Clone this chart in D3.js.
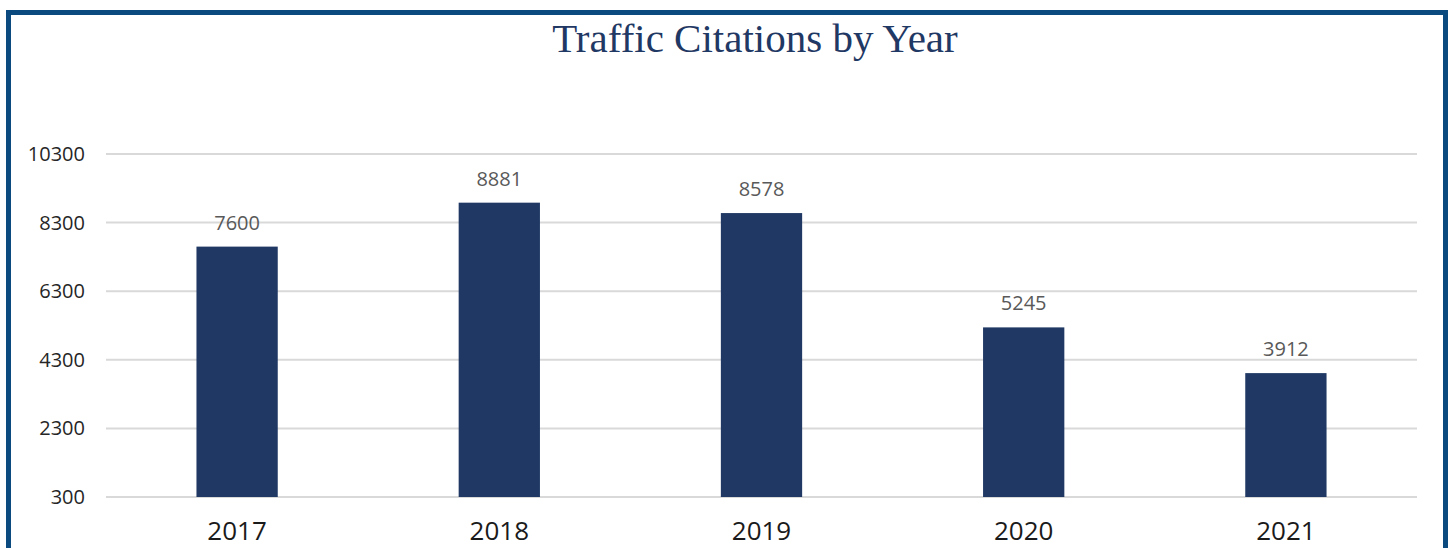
<html>
  <head>
    <meta charset="utf-8">
    <style>
      body { margin: 0; background: #fff; }
      .grid line { stroke: #d9d9d9; stroke-width: 2px; }
      .bar { fill: #1f3864; }
    </style>
  </head>
<body>
  <svg width="1449" height="548"></svg>
  <script src="https://d3js.org/d3.v7.min.js"></script>
  <script>
    var years = ["2017", "2018", "2019", "2020", "2021"];
    var citations = [7600, 8881, 8578, 5245, 3912];
    var yTicks = [300, 2300, 4300, 6300, 8300, 10300];

    var svg = d3.select("svg");

    // frame round the chart (bottom edge is cut off in the original)
    svg.append("path")
      .attr("d", "M8.5,548 V12.5 H1445.5 V548")
      .attr("fill", "none")
      .attr("stroke", "#0b4a7f")
      .attr("stroke-width", 5);

    svg.append("text")
      .attr("x", 755)
      .attr("y", 52)
      .attr("text-anchor", "middle")
      .style("font-family", "'Liberation Serif', serif")
      .style("font-size", "41px")
      .style("fill", "#1f3864")
      .text("Traffic Citations by Year");

    var x = d3.scaleBand()
      .domain(years)
      .range([106, 1417])
      .paddingInner(0.69)
      .paddingOuter(0.345);

    var y = d3.scaleLinear()
      .domain([300, 10300])
      .range([497, 154]);

    var grid = svg.append("g").attr("class", "grid");
    grid.selectAll("line")
      .data(yTicks)
      .enter().append("line")
        .attr("x1", 106)
        .attr("x2", 1417)
        .attr("y1", function(d) { return y(d); })
        .attr("y2", function(d) { return y(d); });

    var yAxis = svg.append("g")
      .attr("transform", "translate(106,0)")
      .call(d3.axisLeft(y).tickValues(yTicks).tickFormat(d3.format("d")).tickSize(0).tickPadding(21));
    yAxis.select(".domain").remove();
    yAxis.selectAll("text")
      .style("font-family", "'Open Sans', sans-serif")
      .style("font-size", "20px")
      .style("fill", "#262626");

    // year labels sit right at the bottom edge, as in the original
    var xAxis = svg.append("g")
      .attr("transform", "translate(0,497)")
      .call(d3.axisBottom(x).tickSize(0).tickPadding(0));
    xAxis.select(".domain").remove();
    xAxis.selectAll("text")
      .attr("dy", null)
      .attr("y", 43)
      .style("font-family", "'Open Sans', sans-serif")
      .style("font-size", "26px")
      .style("fill", "#1a1a1a");

    svg.selectAll(".bar")
      .data(citations)
      .enter().append("rect")
        .attr("class", "bar")
        .attr("x", function(d, i) { return x(years[i]); })
        .attr("width", x.bandwidth())
        .attr("y", function(d) { return y(d); })
        .attr("height", function(d) { return y(300) - y(d); });

    svg.selectAll(".val")
      .data(citations)
      .enter().append("text")
        .attr("class", "val")
        .attr("x", function(d, i) { return x(years[i]) + x.bandwidth() / 2; })
        .attr("y", function(d) { return y(d) - 17; })
        .attr("text-anchor", "middle")
        .style("font-family", "'Open Sans', sans-serif")
        .style("font-size", "20px")
        .style("fill", "#595959")
        .text(function(d) { return d; });
  </script>
  </body>
</html>
